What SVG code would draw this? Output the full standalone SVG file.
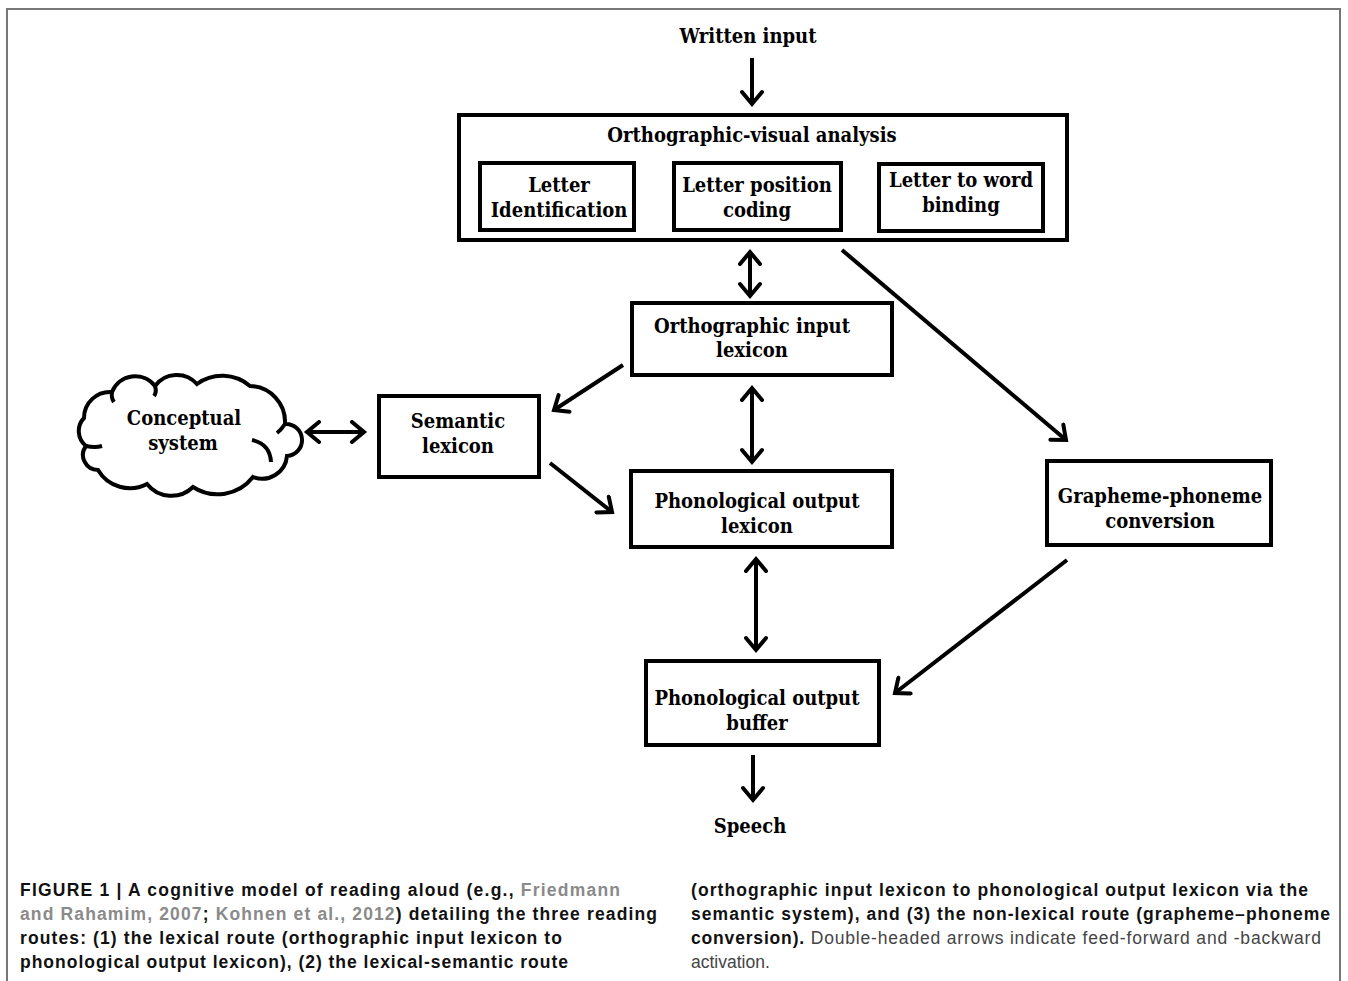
<svg xmlns="http://www.w3.org/2000/svg" width="1348" height="981" viewBox="0 0 1348 981">
<style>
.box{fill:#fff;stroke:#000;stroke-width:4}
.t{font-family:"DejaVu Serif Condensed","DejaVu Serif","Liberation Serif",serif;font-weight:bold;font-size:20px;fill:#000;text-anchor:middle}
.c{fill:none;stroke:#000;stroke-width:4}
.cap{font-family:"Liberation Sans",Arial,sans-serif;font-size:17.5px;fill:#111}
.b{font-weight:bold}
.lnk{fill:#8a8a8a;font-weight:bold}
.reg{font-weight:normal;fill:#444}
</style>
<defs>
<marker id="ah" viewBox="-16 -12 20 24" markerWidth="20" markerHeight="24" refX="0" refY="0" markerUnits="userSpaceOnUse" orient="auto-start-reverse">
<path d="M-12,-10 L0,0 L-12,10" fill="none" stroke="#000" stroke-width="4" stroke-linecap="round"/>
</marker>
</defs>
<rect x="0" y="0" width="1348" height="981" fill="#fff"/>
<path d="M7,985 V9 H1340 V985" fill="none" stroke="#777" stroke-width="2"/>

<text class="t" x="748" y="43">Written input</text>

<g id="ova">
<rect class="box" x="459" y="115" width="608" height="125"/>
<text class="t" x="752" y="142">Orthographic-visual  analysis</text>
</g>
<g id="letter-id">
<rect class="box" x="480" y="163" width="154" height="67"/>
<text class="t" x="559" y="192">Letter</text>
<text class="t" x="559" y="217">Identification</text>
</g>
<g id="letter-pos">
<rect class="box" x="674" y="163" width="167" height="67"/>
<text class="t" x="757" y="192">Letter position</text>
<text class="t" x="757" y="217">coding</text>
</g>
<g id="letter-word">
<rect class="box" x="879" y="164" width="164" height="67"/>
<text class="t" x="961" y="187">Letter to word</text>
<text class="t" x="961" y="212">binding</text>
</g>

<g id="oil">
<rect class="box" x="632" y="303" width="260" height="72"/>
<text class="t" x="752" y="333">Orthographic input</text>
<text class="t" x="752" y="357">lexicon</text>
</g>
<g id="sem">
<rect class="box" x="379" y="396" width="160" height="81"/>
<text class="t" x="458" y="428">Semantic</text>
<text class="t" x="458" y="453">lexicon</text>
</g>
<g id="cloud">
<path class="c" fill="#fff" d="M84,418 A26,26 0 0 1 112,392 A25,25 0 0 1 155,386 A27,27 0 0 1 197,384 A43,43 0 0 1 250,386 A36,36 0 0 1 285,424 A16,16 0 0 1 287,456 A25,25 0 0 1 253,477 A45,45 0 0 1 193,487 A31,31 0 0 1 147,484 A37,37 0 0 1 98,470 A15,15 0 0 1 86,446 A19,19 0 0 1 84,418 Z"/>
<path class="c" d="M252,440 Q270,444 271,462"/>
<path class="c" d="M86,446 Q95,448 102,446"/>
<path class="c" d="M112,392 Q111,398 114,402"/>
<path class="c" d="M155,386 Q157,392 154,396"/>
<path class="c" d="M285,424 Q281,430 277,433"/>
<text class="t" x="184" y="425">Conceptual</text>
<text class="t" x="183" y="450">system</text>
</g>
<g id="pol">
<rect class="box" x="631" y="471" width="261" height="76"/>
<text class="t" x="757" y="508">Phonological output</text>
<text class="t" x="757" y="533">lexicon</text>
</g>
<g id="gpc">
<rect class="box" x="1047" y="461" width="224" height="84"/>
<text class="t" x="1160" y="503">Grapheme-phoneme</text>
<text class="t" x="1160" y="528">conversion</text>
</g>
<g id="pob">
<rect class="box" x="646" y="661" width="233" height="84"/>
<text class="t" x="757" y="705">Phonological output</text>
<text class="t" x="757" y="730">buffer</text>
</g>
<text class="t" x="750" y="833">Speech</text>

<g id="connectors" class="c">
<line x1="752" y1="58" x2="752" y2="104" marker-end="url(#ah)"/>
<line x1="750" y1="252" x2="750" y2="296" marker-start="url(#ah)" marker-end="url(#ah)"/>
<line x1="752" y1="388" x2="752" y2="462" marker-start="url(#ah)" marker-end="url(#ah)"/>
<line x1="307" y1="432" x2="364" y2="432" marker-start="url(#ah)" marker-end="url(#ah)"/>
<line x1="623" y1="365" x2="554" y2="410" marker-end="url(#ah)"/>
<line x1="550" y1="463" x2="612" y2="512" marker-end="url(#ah)"/>
<line x1="842" y1="250" x2="1066" y2="440" marker-end="url(#ah)"/>
<line x1="1067" y1="560" x2="895" y2="693" marker-end="url(#ah)"/>
<line x1="756" y1="559" x2="756" y2="650" marker-start="url(#ah)" marker-end="url(#ah)"/>
<line x1="753" y1="755" x2="753" y2="800" marker-end="url(#ah)"/>
</g>

<g id="caption" class="cap">
<text x="20" y="896" textLength="600" lengthAdjust="spacing"><tspan class="b">FIGURE 1 | A cognitive model of reading aloud (e.g., </tspan><tspan class="lnk">Friedmann</tspan></text>
<text x="20" y="920" textLength="637" lengthAdjust="spacing"><tspan class="lnk">and Rahamim, 2007</tspan><tspan class="b">; </tspan><tspan class="lnk">Kohnen et al., 2012</tspan><tspan class="b">) detailing the three reading</tspan></text>
<text x="20" y="944" textLength="542" lengthAdjust="spacing" class="b">routes: (1) the lexical route (orthographic input lexicon to</text>
<text x="20" y="968" textLength="548" lengthAdjust="spacing" class="b">phonological output lexicon), (2) the lexical-semantic route</text>
<text x="691" y="896" textLength="617" lengthAdjust="spacing" class="b">(orthographic input lexicon to phonological output lexicon via the</text>
<text x="691" y="920" textLength="639" lengthAdjust="spacing" class="b">semantic system), and (3) the non-lexical route (grapheme–phoneme</text>
<text x="691" y="944" textLength="630" lengthAdjust="spacing"><tspan class="b">conversion).</tspan><tspan class="reg"> Double-headed arrows indicate feed-forward and -backward</tspan></text>
<text x="691" y="968" class="reg">activation.</text>
</g>
</svg>
